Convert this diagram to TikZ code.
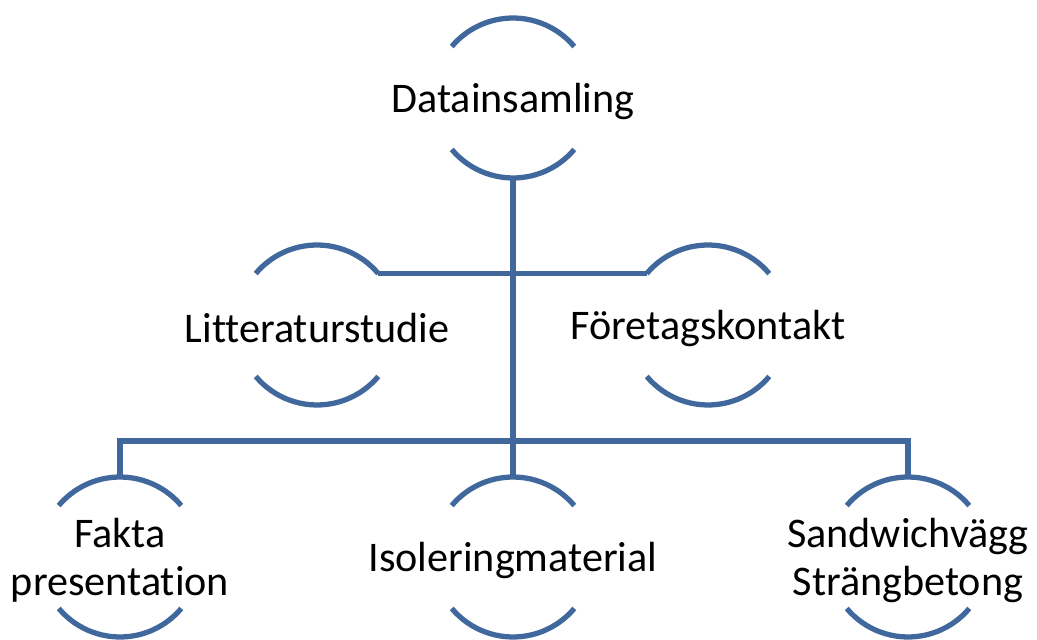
\documentclass[tikz,border=0pt]{standalone}
\usepackage{fontspec}
\setmainfont[Ligatures=NoCommon]{Carlito}
\usepackage{xcolor}
\definecolor{ringblue}{RGB}{64,104,156}

\begin{document}
\begin{tikzpicture}[x=0.02cm, y=0.02cm,
    ringnode/.style={circle, minimum size=3.2cm, inner sep=0pt, outer sep=0pt},
    ringtext/.style={font=\fontsize{24}{27.5}\selectfont, align=center, yshift=-0.07cm},
    arcline/.style={draw=ringblue, line width=3pt},
    linkline/.style={draw=ringblue, line width=3pt}]
        \useasboundingbox (0,0) rectangle (1037,639);

        \node[ringnode, label={[ringtext]center:Datainsamling}] (D) at (513,541) {};
        \node[ringnode, label={[ringtext]center:Litteraturstudie}] (L) at (317,314) {};
        \node[ringnode, label={[ringtext]center:Företagskontakt}] (F) at (708,314) {};
        \node[ringnode, label={[ringtext]center:Fakta\\presentation}] (P) at (120,82) {};
        \node[ringnode, label={[ringtext]center:Isoleringmaterial}] (I) at (513,82) {};
        \node[ringnode, label={[ringtext]center:Sandwichvägg\\Strängbetong}] (S) at (908,82) {};
        \coordinate (bus) at (513,198);

        % arcs above and below each text
        \draw[arcline] (D.40) arc[start angle=40, end angle=140, radius=1.6cm];
        \draw[arcline] (D.220) arc[start angle=220, end angle=320, radius=1.6cm];
        \draw[arcline] (L.40) arc[start angle=40, end angle=140, radius=1.6cm];
        \draw[arcline] (L.220) arc[start angle=220, end angle=320, radius=1.6cm];
        \draw[arcline] (F.40) arc[start angle=40, end angle=140, radius=1.6cm];
        \draw[arcline] (F.220) arc[start angle=220, end angle=320, radius=1.6cm];
        \draw[arcline] (P.40) arc[start angle=40, end angle=140, radius=1.6cm];
        \draw[arcline] (P.220) arc[start angle=220, end angle=320, radius=1.6cm];
        \draw[arcline] (I.40) arc[start angle=40, end angle=140, radius=1.6cm];
        \draw[arcline] (I.220) arc[start angle=220, end angle=320, radius=1.6cm];
        \draw[arcline] (S.40) arc[start angle=40, end angle=140, radius=1.6cm];
        \draw[arcline] (S.220) arc[start angle=220, end angle=320, radius=1.6cm];

        % connectors
        \draw[linkline] (D.south) -- (I.north);
        \draw[linkline] (L.40) -- (F.140);
        \draw[linkline] (P.north) |- (bus) -| (S.north);

\end{tikzpicture}
\end{document}
